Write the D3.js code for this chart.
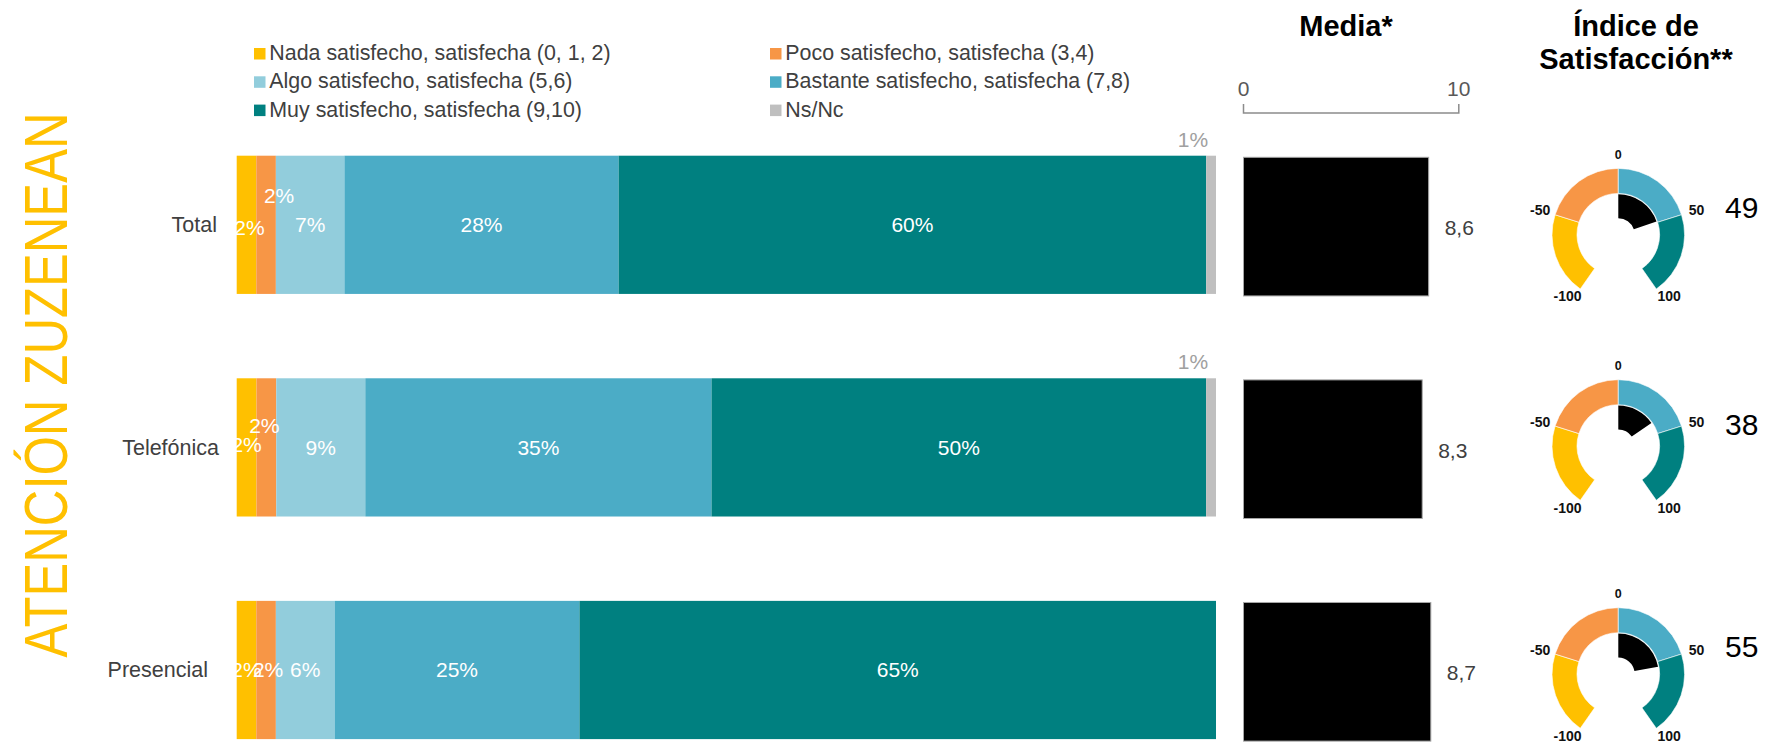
<!DOCTYPE html>
<html>
<head>
<meta charset="utf-8">
<script src="https://cdn.jsdelivr.net/npm/d3@7"></script>
<style>
  html, body { margin: 0; padding: 0; background: #fff; }
  svg { display: block; }
  text { font-family: "Liberation Sans", Arial, sans-serif; }
</style>
</head>
<body>
<svg id="chart" width="1773" height="744"></svg>
<script>
// ---------------- DATA ----------------
const categories = ["Total", "Telefónica", "Presencial"];
const seriesNames = [
  "Nada satisfecho, satisfecha (0, 1, 2)",
  "Poco satisfecho, satisfecha (3,4)",
  "Algo satisfecho, satisfecha (5,6)",
  "Bastante satisfecho, satisfecha (7,8)",
  "Muy satisfecho, satisfecha (9,10)",
  "Ns/Nc"
];
const nada     = [2, 2, 2];
const poco     = [2, 2, 2];
const algo     = [7, 9, 6];
const bastante = [28, 35, 25];
const muy      = [60, 50, 65];
const nsnc     = [1, 1, 0];
const media    = [8.6, 8.3, 8.7];
const indice   = [49, 38, 55];
const mediaTicks = [0, 10];
const gaugeTicks = [-100, -50, 0, 50, 100];
const gaugeBands = [[-100, -50], [-50, 0], [0, 50], [50, 100]];

// ---------------- STYLE ----------------
const colors = ["#FFC000", "#F79646", "#92CDDC", "#4BACC6", "#008080", "#BFBFBF"];
const gaugeColors = ["#FFC000", "#F79646", "#4BACC6", "#008080"];
const textDark = "#404040";
// manual nudges for the crowded small-segment labels (series index -> [dx, dy])
const labelNudge = {
  "Total":      {0: [3, 3],  1: [13, -29]},
  "Telefónica": {0: [0, -3], 1: [-2, -22]},
  "Presencial": {1: [2, 0]}
};
const catLabelNudge = {"Total": -2, "Telefónica": 0, "Presencial": -11};
// gauge label layout per row (dy of big number)
const indexNudge = {"Total": 0, "Telefónica": 6, "Presencial": 0};

const svg = d3.select("#chart");
const series = [nada, poco, algo, bastante, muy, nsnc];

// ---------------- TABLE FOR STACK ----------------
const table = categories.map((c, i) => {
  const row = {cat: c};
  const total = d3.sum(series, s => s[i]);
  series.forEach((s, k) => { row["s" + k] = s[i] / total; row["v" + k] = s[i]; });
  return row;
});
const keys = series.map((s, k) => "s" + k);
const stacked = d3.stack().keys(keys)(table);

// ---------------- SCALES ----------------
const x = d3.scaleLinear().domain([0, 1]).range([236.7, 1216]);
const y = d3.scaleBand().domain(categories).range([155.7, 739.1]).paddingInner(0.379).paddingOuter(0);
const xm = d3.scaleLinear().domain([0, 10]).range([1243.5, 1458.8]);
const gaugeY = {"Total": 234.7, "Telefónica": 446, "Presencial": 674};
const ang = d3.scaleLinear().domain([-100, 100]).range([-145 * Math.PI / 180, 145 * Math.PI / 180]);

// ---------------- VERTICAL TITLE ----------------
svg.append("text")
  .attr("transform", "translate(67,385) rotate(-90)")
  .attr("text-anchor", "middle")
  .attr("font-size", 61)
  .attr("textLength", 545)
  .attr("lengthAdjust", "spacingAndGlyphs")
  .attr("fill", "#FFC000")
  .text("ATENCIÓN ZUZENEAN");

// ---------------- LEGEND ----------------
const legend = svg.append("g");
seriesNames.forEach((name, i) => {
  const col = i % 2, row = Math.floor(i / 2);
  const lx = col === 0 ? 254 : 770;
  const ly = 60 + row * 28.3;
  legend.append("rect").attr("x", lx).attr("y", ly - 12).attr("width", 11.5).attr("height", 11.5)
    .attr("fill", colors[i]);
  legend.append("text").attr("x", lx + 15.3).attr("y", ly)
    .attr("font-size", 21.4).attr("fill", textDark).text(name);
});

// ---------------- STACKED BARS ----------------
const gBars = svg.append("g");
stacked.forEach((layer, k) => {
  gBars.selectAll(null).data(layer).enter().append("rect")
    .attr("x", d => x(d[0]))
    .attr("y", d => y(d.data.cat))
    .attr("width", d => Math.max(0, x(d[1]) - x(d[0])))
    .attr("height", y.bandwidth())
    .attr("fill", colors[k]);
});
// labels
stacked.forEach((layer, k) => {
  layer.forEach(d => {
    const v = d.data["v" + k];
    if (!v) return;
    const cat = d.data.cat;
    if (k === 5) {
      gBars.append("text")
        .attr("x", x(d[0]) + 2)
        .attr("y", y(cat) - 9)
        .attr("text-anchor", "end")
        .attr("font-size", 21)
        .attr("fill", "#A0A0A0")
        .text(v + "%");
      return;
    }
    const n = (labelNudge[cat] && labelNudge[cat][k]) || [0, 0];
    gBars.append("text")
      .attr("x", (x(d[0]) + x(d[1])) / 2 + n[0])
      .attr("y", y(cat) + y.bandwidth() / 2 + 7.5 + n[1])
      .attr("text-anchor", "middle")
      .attr("font-size", 21)
      .attr("fill", "#fff")
      .text(v + "%");
  });
});
// category labels
svg.append("g").selectAll("text").data(categories).enter().append("text")
  .attr("x", d => 219 + catLabelNudge[d])
  .attr("y", d => y(d) + y.bandwidth() / 2 + 7.5)
  .attr("text-anchor", "end")
  .attr("font-size", 21.5)
  .attr("fill", textDark)
  .text(d => d);

// ---------------- MEDIA ----------------
svg.append("text").attr("x", 1346).attr("y", 36).attr("text-anchor", "middle")
  .attr("font-size", 29).attr("font-weight", "bold").attr("fill", "#000").text("Media*");

const axisY = 113;
const gAx = svg.append("g");
gAx.append("path")
  .attr("d", `M${xm(0)},${axisY - 9}V${axisY}H${xm(10)}V${axisY - 9}`)
  .attr("fill", "none").attr("stroke", "#8C8C8C").attr("stroke-width", 1.5);
gAx.selectAll("text").data(mediaTicks).enter().append("text")
  .attr("x", d => xm(d)).attr("y", 95.5)
  .attr("text-anchor", "middle").attr("font-size", 21).attr("fill", "#595959")
  .text(d => d);

const commaFmt = v => d3.format(".1f")(v).replace(".", ",");
const gMedia = svg.append("g");
gMedia.selectAll("rect").data(media).enter().append("rect")
  .attr("x", xm(0))
  .attr("y", (d, i) => y(categories[i]) + 1.6)
  .attr("width", d => xm(d) - xm(0))
  .attr("height", y.bandwidth() + 0.4)
  .attr("fill", "#000")
  .attr("stroke", "#A6A6A6").attr("stroke-width", 1);
gMedia.selectAll("text").data(media).enter().append("text")
  .attr("x", d => xm(d) + 16)
  .attr("y", (d, i) => y(categories[i]) + y.bandwidth() / 2 + 10.5)
  .attr("font-size", 21)
  .attr("fill", textDark)
  .text(d => commaFmt(d));

// ---------------- ÍNDICE ----------------
svg.append("text").attr("x", 1636).attr("y", 36).attr("text-anchor", "middle")
  .attr("font-size", 29).attr("font-weight", "bold").attr("fill", "#000").text("Índice de");
svg.append("text").attr("x", 1636).attr("y", 69).attr("text-anchor", "middle")
  .attr("font-size", 29).attr("font-weight", "bold").attr("fill", "#000").text("Satisfacción**");

const gcx = 1618.3;
const ringArc = d3.arc().innerRadius(41.3).outerRadius(66.3);
const needleArc = d3.arc().innerRadius(16.4).outerRadius(40.4);
const tickSize = t => t === 0 ? 12.5 : 14;
categories.forEach((c, i) => {
  const g = svg.append("g").attr("transform", `translate(${gcx},${gaugeY[c]})`);
  g.selectAll("path.band").data(gaugeBands).enter().append("path")
    .attr("class", "band")
    .attr("d", b => ringArc({startAngle: ang(b[0]), endAngle: ang(b[1])}))
    .attr("fill", (b, j) => gaugeColors[j])
    .attr("stroke", "#fff").attr("stroke-width", 0.6);
  g.append("path")
    .attr("d", needleArc({startAngle: ang(0), endAngle: ang(indice[i])}))
    .attr("fill", "#000");
  g.selectAll("text.tick").data(gaugeTicks).enter().append("text")
    .attr("class", "tick")
    .attr("x", t => 82 * Math.sin(ang(t)) * (Math.abs(t) === 100 ? 1.08 : 1))
    .attr("y", t => -81 * Math.cos(ang(t)) * (Math.abs(t) === 100 ? 0.93 : 1) + 5)
    .attr("text-anchor", "middle")
    .attr("font-family", "'Noto Sans', sans-serif")
    .attr("font-weight", "bold")
    .attr("font-size", tickSize)
    .attr("fill", "#111")
    .text(t => t);
  g.append("text")
    .attr("x", 123.4).attr("y", -28 + 11 + indexNudge[c])
    .attr("text-anchor", "middle")
    .attr("font-family", "'Noto Sans', sans-serif")
    .attr("font-size", 30)
    .attr("fill", "#000")
    .text(indice[i]);
});
</script>
</body>
</html>
